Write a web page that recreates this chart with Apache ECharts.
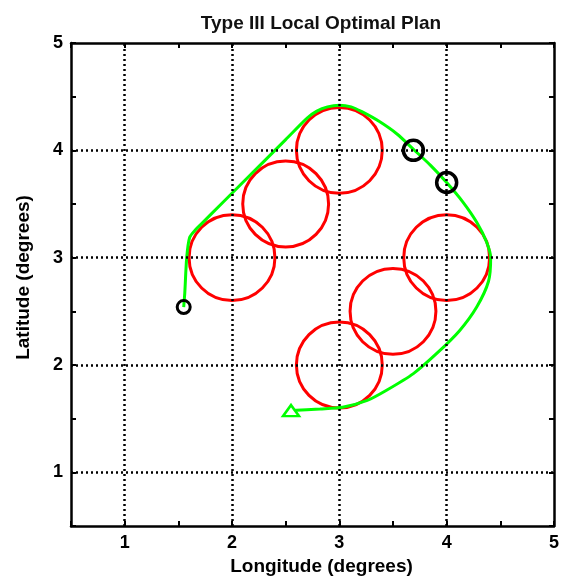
<!DOCTYPE html>
<html>
<head>
<meta charset="utf-8">
<script src="https://cdn.jsdelivr.net/npm/echarts@6/dist/echarts.min.js"></script>
<style>html,body{margin:0;padding:0;background:#fff;}#c{width:562px;height:581px;}</style>
</head>
<body>
<div id="c"></div>
<script>
const titleText = 'Type III Local Optimal Plan';
const xName = 'Longitude (degrees)';
const yName = 'Latitude (degrees)';
const gridX = [1, 2, 3, 4];
const gridY = [1, 2, 3, 4];
// red circles: [centerLon, centerLat, radius]
const redCircles = [[2, 3, 0.4], [2.5, 3.5, 0.4], [3, 4, 0.4], [4, 3, 0.4], [3.5, 2.5, 0.4], [3, 2, 0.4]];
// green path
const pathLon = [1.55, 1.56, 1.578, 1.606, 1.66, 1.72, 1.90, 2.10, 2.30, 2.50, 2.70, 2.79, 2.89, 3.0, 3.11, 3.21, 3.37, 3.54, 3.69, 3.85, 4.0, 4.15, 4.28, 4.37, 4.41, 4.39, 4.28, 4.12, 3.91, 3.69, 3.44, 3.26, 3.03, 2.82, 2.55];
const pathLat = [2.54, 2.67, 3.0, 3.19, 3.26, 3.32, 3.50, 3.70, 3.90, 4.10, 4.30, 4.365, 4.405, 4.42, 4.405, 4.36, 4.27, 4.15, 4.01, 3.86, 3.70, 3.52, 3.33, 3.15, 3.0, 2.78, 2.54, 2.32, 2.11, 1.92, 1.765, 1.67, 1.606, 1.59, 1.575];
const endPoint = [2.55, 1.575];
const startPoint = [1.55, 2.54];
const blackCircles = [[3.69, 4.0], [4.0, 3.70]];

const font = 'Liberation Sans, Arial, sans-serif';
const chart = echarts.init(document.getElementById('c'));
const axisCommon = {
  type: 'value', min: 0.5, max: 5, interval: 0.5,
  axisLine: { show: true, onZero: false, lineStyle: { color: '#000', width: 2.5 } },
  axisTick: { show: true, inside: true, length: 5, lineStyle: { color: '#000', width: 2 } },
  splitLine: { show: false },
};
const fmt = v => (Math.abs(v - Math.round(v)) < 1e-6 ? String(Math.round(v)) : '');
const tickStyle = { color: '#000', fontFamily: font, fontWeight: 'bold', fontSize: 18 };
const nameStyle = { color: '#000', fontFamily: font, fontWeight: 'bold', fontSize: 19 };

chart.setOption({
  animation: false,
  backgroundColor: '#fff',
  title: { text: titleText, left: 316, top: 9, textAlign: 'center',
    textStyle: { color: '#111', fontFamily: font, fontWeight: 'bold', fontSize: 19 } },
  grid: { left: 71, right: 8, top: 43, bottom: 55 },
  xAxis: [
    Object.assign({}, axisCommon, { position: 'bottom', name: xName, nameLocation: 'middle', nameGap: 31,
      nameTextStyle: Object.assign({ padding: [0, 0, 0, 18] }, nameStyle),
      axisLabel: Object.assign({ formatter: fmt, margin: 8 }, tickStyle) }),
    Object.assign({}, axisCommon, { position: 'top', axisLabel: { show: false } })
  ],
  yAxis: [
    Object.assign({}, axisCommon, { position: 'left', name: yName, nameLocation: 'middle', nameGap: 38,
      nameTextStyle: Object.assign({ padding: [0, 0, 0, 14] }, nameStyle),
      axisLabel: Object.assign({ formatter: fmt, margin: 8 }, tickStyle) }),
    Object.assign({}, axisCommon, { position: 'right', axisLabel: { show: false } })
  ],
  series: [
    {
      type: 'line', data: [], silent: true,
      markLine: {
        silent: true, symbol: 'none', label: { show: false },
        lineStyle: { color: '#000', width: 2.5, type: [2, 3] },
        data: gridX.map(v => ({ xAxis: v })).concat(gridY.map(v => ({ yAxis: v })))
      }
    },
    {
      type: 'custom',
      data: redCircles,
      renderItem: function (params, api) {
        const c = api.coord([api.value(0), api.value(1)]);
        const s = api.size([api.value(2), api.value(2)]);
        return { type: 'circle', shape: { cx: c[0], cy: c[1], r: (s[0] + s[1]) / 2 },
          style: { fill: 'none', stroke: '#ff0000', lineWidth: 3 } };
      },
      z: 3
    },
    {
      type: 'line', data: pathLon.map((x, i) => [x, pathLat[i]]), smooth: 0.25,
      symbol: 'none', lineStyle: { color: '#00ff00', width: 3 }, z: 4
    },
    {
      type: 'scatter', data: [endPoint], symbol: 'triangle', symbolSize: [16, 11],
      itemStyle: { color: '#fff', borderColor: '#00ff00', borderWidth: 2.5, opacity: 1 }, z: 5
    },
    {
      type: 'scatter', data: blackCircles, symbol: 'circle', symbolSize: 20,
      itemStyle: { color: 'rgba(0,0,0,0)', borderColor: '#000', borderWidth: 3.5, opacity: 1 }, z: 6
    },
    {
      type: 'scatter', data: [startPoint], symbol: 'circle', symbolSize: 13,
      itemStyle: { color: 'rgba(0,0,0,0)', borderColor: '#000', borderWidth: 3, opacity: 1 }, z: 6
    }
  ]
});
</script>
</body>
</html>
